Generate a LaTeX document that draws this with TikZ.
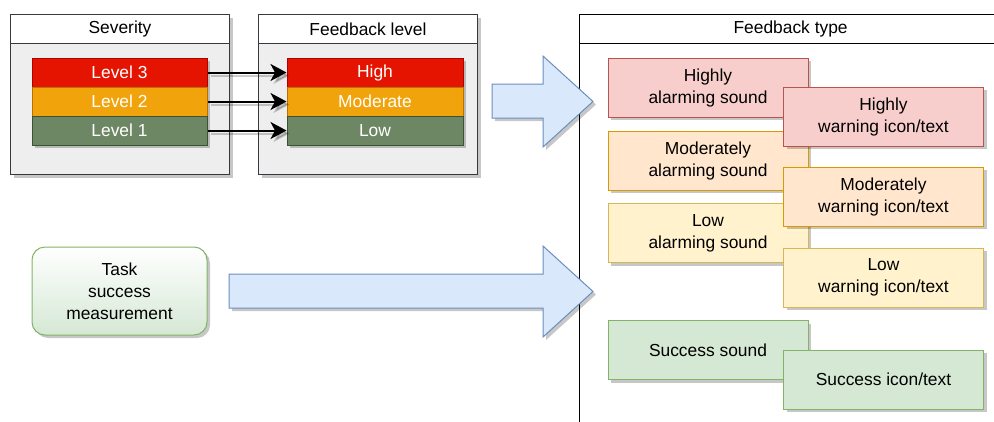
\documentclass[tikz,border=0pt]{standalone}
\usepackage{fontspec}
\setmainfont{Liberation Sans}
\usetikzlibrary{shadows,arrows.meta}

\definecolor{edgegray}{HTML}{36393D}
\definecolor{panelgray}{HTML}{EEEEEE}
\definecolor{redfill}{HTML}{E51400}
\definecolor{redline}{HTML}{B20000}
\definecolor{orangefill}{HTML}{F0A30A}
\definecolor{orangeline}{HTML}{BD7000}
\definecolor{olivefill}{HTML}{6D8764}
\definecolor{oliveline}{HTML}{3A5431}
\definecolor{pinkfill}{HTML}{F8CECC}
\definecolor{pinkline}{HTML}{B85450}
\definecolor{peachfill}{HTML}{FFE6CC}
\definecolor{peachline}{HTML}{D79B00}
\definecolor{creamfill}{HTML}{FFF2CC}
\definecolor{creamline}{HTML}{D6B656}
\definecolor{mintfill}{HTML}{D5E8D4}
\definecolor{mintline}{HTML}{82B366}
\definecolor{skyfill}{HTML}{DAE8FC}
\definecolor{skyline}{HTML}{6C8EBF}

\newcommand\labelfont{\fontsize{17.4}{22}\selectfont}

\tikzset{
  shd/.style={drop shadow={shadow xshift=3pt,shadow yshift=-3pt,fill=black,opacity=0.22}},
  box/.style={draw,line width=1pt,inner sep=0pt,align=center,font=\labelfont,shd},
  panel/.style={box,draw=edgegray,fill=panelgray,anchor=north west,minimum width=219pt,minimum height=160pt},
  panelhead/.style={draw=edgegray,fill=white,line width=1pt,inner sep=0pt,font=\labelfont,anchor=north west,minimum width=219pt,minimum height=29pt},
  levelbox/.style={box,text=white,minimum height=29pt},
  lvhigh/.style={levelbox,fill=redfill,draw=redline},
  lvmid/.style={levelbox,fill=orangefill,draw=orangeline},
  lvlow/.style={levelbox,fill=olivefill,draw=oliveline},
  fbox/.style={box,minimum width=200pt,minimum height=59pt},
  fhigh/.style={fbox,fill=pinkfill,draw=pinkline},
  fmid/.style={fbox,fill=peachfill,draw=peachline},
  flow/.style={fbox,fill=creamfill,draw=creamline},
  fok/.style={fbox,fill=mintfill,draw=mintline},
  link/.style={line width=2pt,-{Stealth[length=16pt,width=17pt,inset=4.5pt]},
    preaction={draw,black,opacity=0.2,line width=2pt,transform canvas={xshift=3pt,yshift=-3pt}}},
  bigarrow/.style={fill=skyfill,draw=skyline,line width=1pt,line join=miter,shd},
}

\begin{document}
\begin{tikzpicture}[x=1pt,y=-1pt]
\useasboundingbox (0,0) rectangle (994,421);

% Severity and feedback level panels
\node[panel] (sev) at (10,14) {};
\node[panelhead] (sevhead) at (10,14) {Severity};
\node[panel] (lvl) at (258,14) {};
\node[panelhead] (lvlhead) at (258,14) {Feedback level};

\node[lvhigh,minimum width=175pt] (s3) at (119.5,72.5) {Level 3};
\node[lvmid,minimum width=175pt]  (s2) at (119.5,101.5) {Level 2};
\node[lvlow,minimum width=175pt]  (s1) at (119.5,130.5) {Level 1};

\node[lvhigh,minimum width=176pt] (fh) at (375,72.5) {High};
\node[lvmid,minimum width=176pt]  (fm) at (375,101.5) {Moderate};
\node[lvlow,minimum width=176pt]  (fl) at (375,130.5) {Low};

\draw[link] (s3.east) -- (fh.west);
\draw[link] (s2.east) -- (fm.west);
\draw[link] (s1.east) -- (fl.west);

% Task success source
\node[box,draw=mintline,top color=white,bottom color=mintfill,rounded corners=13pt,
      minimum width=175pt,minimum height=88pt] (task) at (119.5,291)
      {Task\\success\\measurement};

% Feedback type panel (runs past the right and bottom edges)
\begin{scope}
\clip (0,0) rectangle (994,421);
\node[draw=black,fill=white,line width=1.2pt,inner sep=0pt,anchor=north west,
      minimum width=422pt,minimum height=440pt] (ftype) at (579,14) {};
\node[draw=black,fill=white,line width=1.2pt,inner sep=0pt,anchor=north west,font=\labelfont,
      minimum width=422pt,minimum height=29pt] (ftypehead) at (579,14) {Feedback type};
\end{scope}

% Block arrows into the feedback type panel
\draw[bigarrow] (492,84) -- (543,84) -- (543,56) -- (593,101.5) -- (543,147) -- (543,118) -- (492,118) -- cycle;
\draw[bigarrow] (229,274) -- (543,274) -- (543,246) -- (593,291.5) -- (543,337) -- (543,308) -- (229,308) -- cycle;

% Sounds
\node[fhigh] (hsound) at (708,87.5) {Highly\\alarming sound};
\node[fmid]  (msound) at (708,160.5) {Moderately\\alarming sound};
\node[flow]  (lsound) at (708,233) {Low\\alarming sound};
\node[fok]   (ssound) at (708,350) {Success sound};

% Icons / text
\node[fhigh] (hicon) at (883.5,116.5) {Highly\\warning icon/text};
\node[fmid]  (micon) at (883.5,196.5) {Moderately\\warning icon/text};
\node[flow]  (licon) at (883.5,277.5) {Low\\warning icon/text};
\node[fok]   (sicon) at (883.5,379.5) {Success icon/text};
\end{tikzpicture}
\end{document}
